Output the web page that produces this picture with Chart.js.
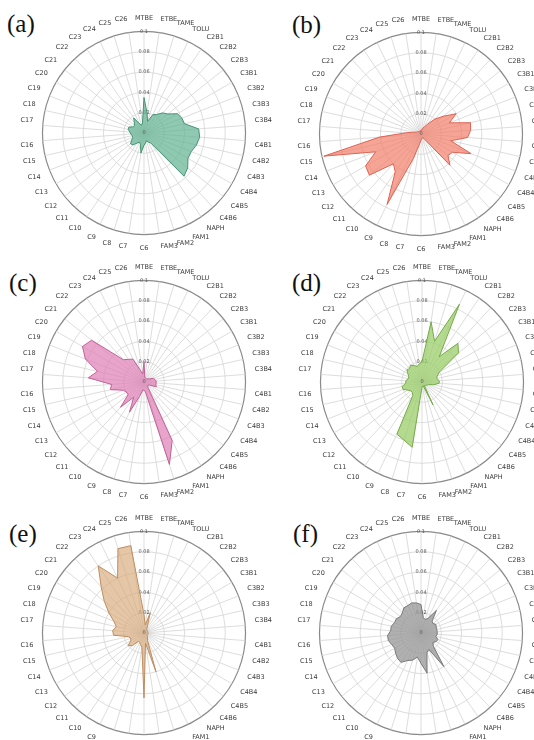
<!DOCTYPE html>
<html>
<head>
<meta charset="utf-8">
<script src="https://cdn.jsdelivr.net/npm/chart.js@4.4.1/dist/chart.umd.min.js"></script>
<style>
  body { margin: 0; background: #fff; width: 534px; height: 740px; overflow: hidden; position: relative; }
  .panel { position: absolute; width: 256px; height: 256px; }
  .tag { position: absolute; font-family: "Liberation Serif", "DejaVu Serif", serif; font-size: 25px; line-height: 1; color: #111; }
</style>
</head>
<body>

<div class="tag" style="left:7px;top:11px">(a)</div>
<div class="tag" style="left:292px;top:12px">(b)</div>
<div class="tag" style="left:9px;top:270px">(c)</div>
<div class="tag" style="left:292px;top:270px">(d)</div>
<div class="tag" style="left:9px;top:521px">(e)</div>
<div class="tag" style="left:293px;top:521px">(f)</div>

<div class="panel" style="left:19px;top:6px"><canvas id="chartA" width="256" height="256"></canvas></div>
<div class="panel" style="left:296px;top:7px"><canvas id="chartB" width="256" height="256"></canvas></div>
<div class="panel" style="left:19px;top:255px"><canvas id="chartC" width="256" height="256"></canvas></div>
<div class="panel" style="left:297px;top:255px"><canvas id="chartD" width="256" height="256"></canvas></div>
<div class="panel" style="left:19px;top:506px"><canvas id="chartE" width="256" height="256"></canvas></div>
<div class="panel" style="left:296px;top:506px"><canvas id="chartF" width="256" height="256"></canvas></div>

<script>
// categories, clockwise from the top
var categories = ['MTBE', 'ETBE', 'TAME', 'TOLU', 'C2B1', 'C2B2', 'C2B3', 'C3B1', 'C3B2', 'C3B3', 'C3B4',
    'C4B1', 'C4B2', 'C4B3', 'C4B4', 'C4B5', 'C4B6', 'NAPH', 'FAM1', 'FAM2', 'FAM3',
    'C6', 'C7', 'C8', 'C9', 'C10', 'C11', 'C12', 'C13', 'C14', 'C15', 'C16', 'C17', 'C18', 'C19', 'C20',
    'C21', 'C22', 'C23', 'C24', 'C25', 'C26'];

var tickLabels = ['0', '0.02', '0.04', '0.06', '0.08', '0.1'];

var valuesA = [0.035, 0.02, 0.012, 0.02, 0.022, 0.027, 0.03, 0.038, 0.04, 0.041, 0.054,
    0.055, 0.053, 0.05, 0.05, 0.055, 0.058, 0.012, 0.01, 0.008, 0.01,
    0.012, 0.02, 0.012, 0.01, 0.012, 0.016, 0.017, 0.014, 0.012, 0.012, 0.013, 0.014, 0.016, 0.016, 0.012,
    0.012, 0.014, 0.018, 0.01, 0.008, 0.01];

var valuesB = [0.004, 0.004, 0.006, 0.008, 0.012, 0.02, 0.028, 0.04, 0.03, 0.05, 0.049,
    0.046, 0.03, 0.053, 0.036, 0.034, 0.042, 0.006, 0.004, 0.004, 0.005,
    0.006, 0.01, 0.025, 0.077, 0.045, 0.04, 0.065, 0.063, 0.048, 0.098, 0.041, 0.015, 0.008, 0.005, 0.004,
    0.004, 0.003, 0.003, 0.003, 0.003, 0.003];

var valuesC = [0.02, 0.005, 0.004, 0.004, 0.004, 0.004, 0.005, 0.006, 0.01, 0.011, 0.012,
    0.012, 0.012, 0.013, 0.006, 0.005, 0.005, 0.008, 0.064, 0.085, 0.01,
    0.008, 0.008, 0.015, 0.033, 0.018, 0.034, 0.02, 0.02, 0.022, 0.034, 0.032, 0.055, 0.047, 0.062, 0.07,
    0.066, 0.03, 0.027, 0.025, 0.012, 0.008];

var valuesD = [0.02, 0.06, 0.042, 0.085, 0.03, 0.052, 0.046, 0.02, 0.016, 0.015, 0.017,
    0.017, 0.012, 0.007, 0.006, 0.005, 0.005, 0.004, 0.025, 0.004, 0.004,
    0.005, 0.065, 0.06, 0.057, 0.016, 0.014, 0.014, 0.016, 0.02, 0.02, 0.016, 0.016, 0.014, 0.014, 0.016,
    0.019, 0.018, 0.02, 0.018, 0.016, 0.018];

var valuesE = [0.018, 0.008, 0.021, 0.008, 0.005, 0.004, 0.004, 0.004, 0.004, 0.004, 0.004,
    0.004, 0.004, 0.004, 0.004, 0.004, 0.005, 0.006, 0.008, 0.04, 0.01,
    0.064, 0.014, 0.012, 0.01, 0.01, 0.017, 0.02, 0.015, 0.014, 0.016, 0.03, 0.031, 0.028, 0.032, 0.04,
    0.05, 0.062, 0.08, 0.06, 0.087, 0.087];

var valuesF = [0.028, 0.015, 0.014, 0.016, 0.027, 0.016, 0.015, 0.017, 0.016, 0.016, 0.016,
    0.016, 0.015, 0.018, 0.017, 0.015, 0.018, 0.04, 0.018, 0.02, 0.04,
    0.03, 0.024, 0.028, 0.03, 0.035, 0.034, 0.032, 0.03, 0.031, 0.033, 0.033, 0.03, 0.03, 0.028, 0.028,
    0.026, 0.027, 0.03, 0.03, 0.031, 0.03];

// draws the "0" at the centre, Chart.js skips the first tick label
var zeroLabel = {
    id: 'zeroLabel',
    afterDraw: function(chart) {
        var r = chart.scales.r;
        var c = chart.ctx;
        c.save();
        c.font = '5px "DejaVu Sans", sans-serif';
        c.fillStyle = '#555';
        c.textAlign = 'center';
        c.textBaseline = 'middle';
        c.fillText(tickLabels[0], r.xCenter, r.yCenter);
        c.restore();
    }
};

function radar(id, values, fill, line) {
    var ctx = document.getElementById(id).getContext('2d');
    return new Chart(ctx, {
        type: 'radar',
        data: {
            labels: categories,
            datasets: [{
                data: values,
                backgroundColor: fill,
                borderColor: line,
                borderWidth: 1,
                pointRadius: 0,
                fill: true
            }]
        },
        options: {
            responsive: false,
            animation: false,
            layout: { padding: 0 },
            plugins: {
                legend: { display: false },
                tooltip: { enabled: false }
            },
            scales: {
                r: {
                    min: 0,
                    max: 0.1,
                    startAngle: 0,
                    ticks: {
                        stepSize: 0.02,
                        showLabelBackdrop: false,
                        color: '#555',
                        font: { size: 5, family: '"DejaVu Sans", sans-serif' },
                        callback: function(v, i) { return tickLabels[i]; }
                    },
                    grid: {
                        circular: true,
                        color: function(c) { return c.index === 5 ? '#8a8a8a' : '#d4d4d4'; },
                        lineWidth: function(c) { return c.index === 5 ? 1.2 : 0.8; }
                    },
                    angleLines: { color: '#d4d4d4', lineWidth: 0.8 },
                    pointLabels: {
                        color: '#3a3a3a',
                        padding: 5,
                        font: { size: 6.5, family: '"DejaVu Sans", sans-serif' }
                    }
                }
            }
        },
        plugins: [zeroLabel]
    });
}

radar('chartA', valuesA, 'rgba(95,178,145,0.7)', 'rgba(70,145,115,1)');
radar('chartB', valuesB, 'rgba(242,125,105,0.7)', 'rgba(220,100,85,1)');
radar('chartC', valuesC, 'rgba(222,125,180,0.7)', 'rgba(195,95,150,1)');
radar('chartD', valuesD, 'rgba(155,205,105,0.75)', 'rgba(120,170,75,1)');
radar('chartE', valuesE, 'rgba(215,168,120,0.65)', 'rgba(190,140,95,1)');
radar('chartF', valuesF, 'rgba(150,150,150,0.75)', 'rgba(120,120,120,1)');
</script>
</body>
</html>
